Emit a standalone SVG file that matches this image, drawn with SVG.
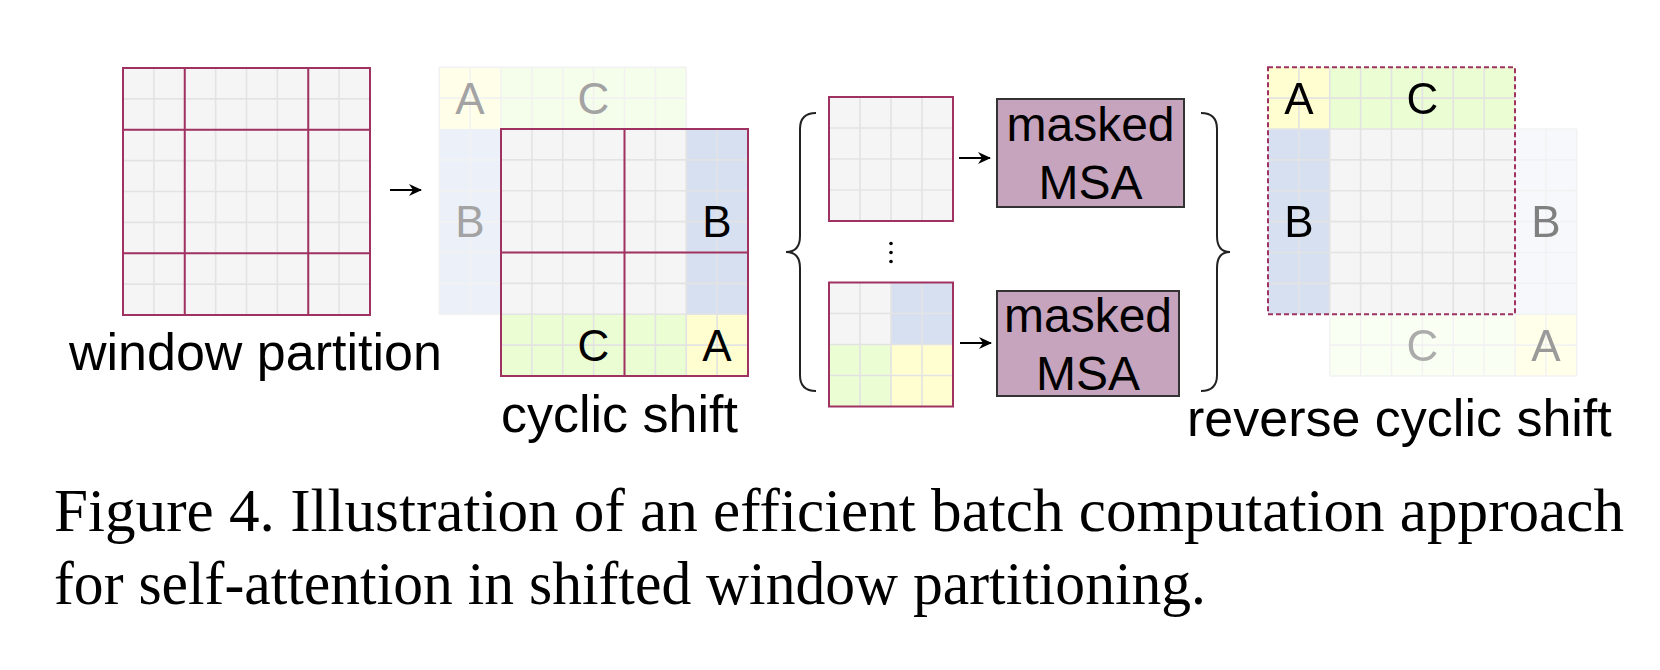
<svg xmlns="http://www.w3.org/2000/svg" width="1660" height="670" viewBox="0 0 1660 670">
<defs>
<style>
.bg{fill:#ffffff}
.gray{fill:#f5f5f5}
.blue{fill:#d6e0f1}
.green{fill:#ebfdd3}
.yellow{fill:#fffed0}
.gl{stroke:#e3e3e3;stroke-width:1.6;fill:none}
.win{stroke:#a03262;stroke-width:2;fill:none}
.dash{stroke:#a03262;stroke-width:2;fill:none;stroke-dasharray:5 3}
.lbl{font-family:"Liberation Sans",Arial,sans-serif;font-size:44px;text-anchor:middle;dominant-baseline:central;fill:#000}
.fadedtxt{fill:#a3a3a3}
.cap{font-family:"Liberation Sans",Arial,sans-serif;font-size:52px;fill:#000}
.msa{fill:#c6a4bd;stroke:#333333;stroke-width:2}
.msat{font-family:"Liberation Sans",Arial,sans-serif;font-size:48px;text-anchor:middle;fill:#000}
.conn{stroke:#000;stroke-width:2;fill:none}
.brace{stroke:#222;stroke-width:2;fill:none}
.fig{font-family:"Liberation Serif","Times New Roman",serif;font-size:62px;fill:#000}
</style>
<marker id="ah" markerUnits="userSpaceOnUse" markerWidth="14" markerHeight="12" refX="12" refY="6" orient="auto">
<path d="M0,0 L13,6 L0,12 L4,6 Z" fill="#000"/>
</marker>
</defs>
<rect class="bg" x="0" y="0" width="1660" height="670"/>

<g id="window-partition">
<rect class="gray" x="123" y="68" width="247" height="247"/>
<path class="gl" d="M153.875,68V315M184.75,68V315M215.625,68V315M246.5,68V315M277.375,68V315M308.25,68V315M339.125,68V315M123,98.875H370M123,129.75H370M123,160.625H370M123,191.5H370M123,222.375H370M123,253.25H370M123,284.125H370"/>
<rect class="win" x="123" y="68" width="247" height="247"/>
<path class="win" d="M184.75,68V315M308.25,68V315M123,129.75H370M123,253.25H370"/>
<text class="cap" x="69" y="370">window partition</text>
</g>

<g id="cyclic-shift">
<g opacity="0.45">
<rect class="yellow" x="439.25" y="67.25" width="61.75" height="61.75"/>
<rect class="green" x="501" y="67.25" width="185.25" height="61.75"/>
<rect class="blue" x="439.25" y="129" width="61.75" height="185.25"/>
<path class="gl" d="M439.25,67.25H686.25M439.25,98.125H686.25M439.25,67.25V314.25M470.125,67.25V314.25M501,67.25V129M531.875,67.25V129M562.75,67.25V129M593.625,67.25V129M624.5,67.25V129M655.375,67.25V129M686.25,67.25V129M439.25,159.875H501M439.25,190.75H501M439.25,221.625H501M439.25,252.5H501M439.25,283.375H501M439.25,314.25H501"/>
</g>
<text class="lbl fadedtxt" x="470" y="98">A</text>
<text class="lbl fadedtxt" x="593.5" y="98">C</text>
<text class="lbl fadedtxt" x="470" y="221.5">B</text>
<rect class="gray" x="501" y="129" width="247" height="247"/>
<rect class="blue" x="686.25" y="129" width="61.75" height="185.25"/>
<rect class="green" x="501" y="314.25" width="185.25" height="61.75"/>
<rect class="yellow" x="686.25" y="314.25" width="61.75" height="61.75"/>
<path class="gl" d="M531.875,129V376M562.75,129V376M593.625,129V376M624.5,129V376M655.375,129V376M686.25,129V376M717.125,129V376M501,159.875H748M501,190.75H748M501,221.625H748M501,252.5H748M501,283.375H748M501,314.25H748M501,345.125H748"/>
<rect class="win" x="501" y="129" width="247" height="247"/>
<path class="win" d="M624.5,129V376M501,252.5H748"/>
<text class="lbl" x="717" y="221.5">B</text>
<text class="lbl" x="593.5" y="345">C</text>
<text class="lbl" x="717" y="345">A</text>
<text class="cap" x="501" y="432">cyclic shift</text>
</g>

<g id="window-top">
<rect class="gray" x="829" y="97" width="124" height="124"/>
<path class="gl" d="M860,97V221M891,97V221M922,97V221M829,128H953M829,159H953M829,190H953"/>
<rect class="win" x="829" y="97" width="124" height="124"/>
</g>

<g id="ellipsis">
<circle cx="891" cy="243.5" r="1.8" fill="#000"/>
<circle cx="891" cy="252.5" r="1.8" fill="#000"/>
<circle cx="891" cy="261.5" r="1.8" fill="#000"/>
</g>

<g id="window-bottom">
<rect class="gray" x="829" y="282.5" width="62" height="62"/>
<rect class="blue" x="891" y="282.5" width="62" height="62"/>
<rect class="green" x="829" y="344.5" width="62" height="62"/>
<rect class="yellow" x="891" y="344.5" width="62" height="62"/>
<path class="gl" d="M860,282.5V406.5M891,282.5V406.5M922,282.5V406.5M829,313.5H953M829,344.5H953M829,375.5H953"/>
<rect class="win" x="829" y="282.5" width="124" height="124"/>
</g>

<g id="msa-top">
<rect class="msa" x="997" y="99" width="187" height="108"/>
<text class="msat" x="1090.5" y="141">masked</text>
<text class="msat" x="1090.5" y="199">MSA</text>
</g>

<g id="msa-bottom">
<rect class="msa" x="997" y="291" width="182" height="105"/>
<text class="msat" x="1088" y="332">masked</text>
<text class="msat" x="1088" y="390">MSA</text>
</g>

<g id="reverse-cyclic-shift">
<g opacity="0.45">
<rect class="blue" x="1515" y="129" width="61.75" height="185.25" opacity="0.5"/>
<rect class="green" x="1329.75" y="314.25" width="185.25" height="61.75" opacity="0.6"/>
<rect class="yellow" x="1515" y="314.25" width="61.75" height="61.75"/>
<path class="gl" d="M1515,129H1576.75M1515,159.875H1576.75M1515,190.75H1576.75M1515,221.625H1576.75M1515,252.5H1576.75M1515,283.375H1576.75M1329.75,314.25H1576.75M1329.75,345.125H1576.75M1329.75,376H1576.75M1545.875,129V376M1576.75,129V376M1329.75,314.25V376M1360.625,314.25V376M1391.5,314.25V376M1422.375,314.25V376M1453.25,314.25V376M1484.125,314.25V376M1515,314.25V376"/>
</g>
<text class="lbl" x="1545.9" y="221.5" style="fill:#808080">B</text>
<text class="lbl" x="1422.4" y="345" style="fill:#ababab">C</text>
<text class="lbl" x="1545.9" y="345" style="fill:#9a9a9a">A</text>
<rect class="gray" x="1268" y="67.25" width="247" height="247"/>
<rect class="yellow" x="1268" y="67.25" width="61.75" height="61.75"/>
<rect class="green" x="1329.75" y="67.25" width="185.25" height="61.75"/>
<rect class="blue" x="1268" y="129" width="61.75" height="185.25"/>
<path class="gl" d="M1298.875,67.25V314.25M1329.75,67.25V314.25M1360.625,67.25V314.25M1391.5,67.25V314.25M1422.375,67.25V314.25M1453.25,67.25V314.25M1484.125,67.25V314.25M1268,98.125H1515M1268,129H1515M1268,159.875H1515M1268,190.75H1515M1268,221.625H1515M1268,252.5H1515M1268,283.375H1515"/>
<rect class="dash" x="1268" y="67.25" width="247" height="247"/>
<text class="lbl" x="1299" y="98">A</text>
<text class="lbl" x="1422.4" y="98">C</text>
<text class="lbl" x="1299" y="221.5">B</text>
<text class="cap" x="1187" y="436">reverse cyclic shift</text>
</g>

<g id="connectors">
<line class="conn" x1="390" y1="190" x2="421" y2="190" marker-end="url(#ah)"/>
<line class="conn" x1="959" y1="158" x2="990" y2="158" marker-end="url(#ah)"/>
<line class="conn" x1="960" y1="343" x2="991" y2="343" marker-end="url(#ah)"/>
<path class="brace" d="M816,113 Q800,113 800,129 L800,236 Q800,252 786,252 Q800,252 800,268 L800,375 Q800,391 816,391"/>
<path class="brace" d="M1201,113 Q1217,113 1217,129 L1217,236 Q1217,252 1230,252 Q1217,252 1217,268 L1217,375 Q1217,391 1201,391"/>
</g>

<g id="caption">
<text class="fig" x="54" y="531" textLength="1570" lengthAdjust="spacingAndGlyphs">Figure 4. Illustration of an efficient batch computation approach</text>
<text class="fig" x="54" y="604" textLength="1152" lengthAdjust="spacingAndGlyphs">for self-attention in shifted window partitioning.</text>
</g>
</svg>
